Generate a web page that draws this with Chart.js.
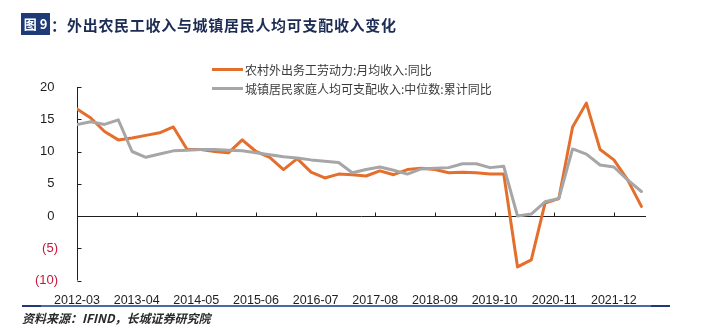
<!DOCTYPE html>
<html>
<head>
<meta charset="utf-8">
<script src="https://cdn.jsdelivr.net/npm/chart.js@4.4.1/dist/chart.umd.min.js"></script>
<style>
  html, body { margin: 0; padding: 0; background: #ffffff; }
  #wrap { position: relative; width: 704px; height: 336px; overflow: hidden; background: #ffffff; }
  #chart { position: absolute; left: 0; top: 0; }
  .title { position: absolute; left: 21px; top: 13px; height: 22px; display: flex; align-items: center;
           font-family: "Noto Sans CJK SC", sans-serif; font-weight: 700; font-size: 15px; color: #1c2c55; white-space: nowrap; }
  .badge { display: inline-block; width: 29px; height: 22px; line-height: 22px; background: #1f3b77; color: #ffffff;
           font-size: 13px; text-align: center; letter-spacing: 0; }
  .colon { display: inline-block; width: 16px; text-align: left; padding-left: 1px; }
  .title-text { letter-spacing: 0.7px; }
  .legend { position: absolute; left: 212px; top: 60px; font-family: "Noto Sans CJK SC", sans-serif; font-size: 12px; color: #3a3a3a; }
  .legend .row { height: 19px; display: flex; align-items: center; white-space: nowrap; }
  .legend .swatch { display: inline-block; width: 31px; height: 3px; margin-right: 2px; }
  .rule { position: absolute; left: 22px; top: 305px; width: 648px; height: 2px; background: #4a6aa5; }
  .rule .cap { position: absolute; top: 0; width: 19px; height: 2px; background: #1f3b77; }
  .source { position: absolute; left: 22px; top: 309px; font-family: "Noto Sans CJK SC", sans-serif; font-size: 12px;
            font-weight: 700; font-style: italic; color: #2a2a2a; white-space: nowrap; }
</style>
</head>
<body>
<div id="wrap">
  <canvas id="chart" width="704" height="336"></canvas>
  <div class="title"><span class="badge">图 9</span><span class="colon">：</span><span class="title-text">外出农民工收入与城镇居民人均可支配收入变化</span></div>
  <div class="legend">
    <div class="row"><span class="swatch" style="background:#e46f2d"></span>农村外出务工劳动力:月均收入:同比</div>
    <div class="row"><span class="swatch" style="background:#a6a6a6"></span>城镇居民家庭人均可支配收入:中位数:累计同比</div>
  </div>
  <div class="rule"><span class="cap" style="left:0"></span><span class="cap" style="right:0"></span></div>
  <div class="source">资料来源：IFIND，长城证券研究院</div>
</div>
<script>
// Quarter-end months of each observation
const quarterEnds = [
  '2012-03','2012-06','2012-09','2012-12',
  '2013-03','2013-06','2013-09','2013-12',
  '2014-03','2014-06','2014-09','2014-12',
  '2015-03','2015-06','2015-09','2015-12',
  '2016-03','2016-06','2016-09','2016-12',
  '2017-03','2017-06','2017-09','2017-12',
  '2018-03','2018-06','2018-09','2018-12',
  '2019-03','2019-06','2019-09','2019-12',
  '2020-03','2020-06','2020-09','2020-12',
  '2021-03','2021-06','2021-09','2021-12',
  '2022-03','2022-06'
];

// 农村外出务工劳动力:月均收入:同比 (%)
const migrantIncomeYoY = [
  16.6, 15.2, 13.1, 11.8,
  12.1, 12.5, 12.9, 13.8,
  10.3, 10.3, 10.0, 9.8,
  11.8, 10.0, 9.1, 7.2,
  8.9, 6.8, 5.9, 6.5,
  6.4, 6.2, 7.0, 6.4,
  7.2, 7.4, 7.2, 6.7,
  6.8, 6.7, 6.5, 6.5,
  -7.9, -6.8, 2.0, 2.7,
  13.8, 17.5, 10.3, 8.7,
  5.6, 1.5
];

// 城镇居民家庭人均可支配收入:中位数:累计同比 (%)
const urbanMedianIncomeYoY = [
  14.2, 14.6, 14.2, 14.9,
  10.0, 9.1, 9.6, 10.1,
  10.2, 10.3, 10.3, 10.2,
  10.1, 9.8, 9.5, 9.2,
  9.0, 8.7, 8.5, 8.3,
  6.7, 7.2, 7.6, 7.1,
  6.5, 7.3, 7.4, 7.5,
  8.1, 8.1, 7.5, 7.7,
  0.0, 0.3, 2.2, 2.7,
  10.4, 9.6, 7.9, 7.6,
  5.6, 3.8
];

// Date labels shown along the horizontal axis (every 13 months)
const axisTickLabels = ['2012-03','2013-04','2014-05','2015-06','2016-07','2017-08','2018-09','2019-10','2020-11','2021-12'];

// Y axis ticks
const yMin = -10, yMax = 20, yStep = 5;
// Last month covered by the horizontal axis
const axisEndMonth = '2022-07';

const ORANGE = '#e46f2d';
const GREY = '#a6a6a6';

function monthIndex(label) {
  const [yy, mm] = label.split('-').map(Number);
  return (yy - 2012) * 12 + (mm - 3);
}
function monthLabel(idx) {
  const total = 2012 * 12 + 2 + Math.round(idx);
  const yy = Math.floor(total / 12);
  const mm = total % 12 + 1;
  return yy + '-' + String(mm).padStart(2, '0');
}
const toPoints = vals => quarterEnds.map((q, i) => ({ x: monthIndex(q), y: vals[i] }));

// Axis lines with inward tick marks; the category axis runs along zero
const axisLines = {
  id: 'axisLines',
  beforeDatasetsDraw(chart) {
    const { ctx, chartArea, scales: { x, y } } = chart;
    ctx.save();
    ctx.strokeStyle = '#1e1e1e';
    ctx.lineWidth = 1;
    ctx.beginPath();
    const xl = Math.round(chartArea.left) + 0.5;
    ctx.moveTo(xl, y.getPixelForValue(y.max));
    ctx.lineTo(xl, y.getPixelForValue(y.min));
    y.ticks.forEach(t => {
      const py = Math.round(y.getPixelForValue(t.value)) + 0.5;
      ctx.moveTo(xl, py);
      ctx.lineTo(xl + 4, py);
    });
    const yz = Math.round(y.getPixelForValue(0)) + 0.5;
    ctx.moveTo(chartArea.left, yz);
    ctx.lineTo(chartArea.right, yz);
    x.ticks.forEach(t => {
      const px = Math.round(x.getPixelForValue(t.value)) + 0.5;
      ctx.moveTo(px, yz);
      ctx.lineTo(px, yz - 4);
    });
    ctx.stroke();
    ctx.restore();
  }
};

new Chart(document.getElementById('chart'), {
  type: 'line',
  data: {
    datasets: [
      {
        label: '农村外出务工劳动力:月均收入:同比',
        data: toPoints(migrantIncomeYoY),
        borderColor: ORANGE,
        borderWidth: 3,
        pointRadius: 0,
        tension: 0,
        borderJoinStyle: 'round',
        borderCapStyle: 'round',
        order: 1
      },
      {
        label: '城镇居民家庭人均可支配收入:中位数:累计同比',
        data: toPoints(urbanMedianIncomeYoY),
        borderColor: GREY,
        borderWidth: 3,
        pointRadius: 0,
        tension: 0,
        borderJoinStyle: 'round',
        borderCapStyle: 'round',
        order: 0
      }
    ]
  },
  options: {
    responsive: false,
    devicePixelRatio: 1,
    animation: false,
    layout: { padding: { top: 87, right: 58, bottom: 0, left: 0 } },
    plugins: { legend: { display: false }, tooltip: { enabled: false } },
    scales: {
      x: {
        type: 'linear',
        min: 0,
        max: monthIndex(axisEndMonth),
        afterBuildTicks: s => { s.ticks = axisTickLabels.map(l => ({ value: monthIndex(l) })); },
        afterFit: s => { s.height = 55.5; },
        grid: { display: false },
        border: { display: false },
        ticks: {
          autoSkip: false,
          maxRotation: 0,
          padding: 5,
          color: '#1e1e1e',
          font: { family: '"Liberation Sans", Arial, sans-serif', size: 12.5 },
          callback: v => monthLabel(v)
        }
      },
      y: {
        min: yMin,
        max: yMax,
        afterFit: s => { s.width = 77; },
        grid: { display: false },
        border: { display: false },
        ticks: {
          stepSize: yStep,
          padding: 11,
          font: { family: '"Liberation Sans", Arial, sans-serif', size: 13 },
          color: c => (c.tick && c.tick.value < 0 ? '#c8163c' : '#1e1e1e'),
          callback: v => (v < 0 ? '(' + (-v) + ')' : v + ' ')
        }
      }
    }
  },
  plugins: [axisLines]
});
</script>
</body>
</html>
